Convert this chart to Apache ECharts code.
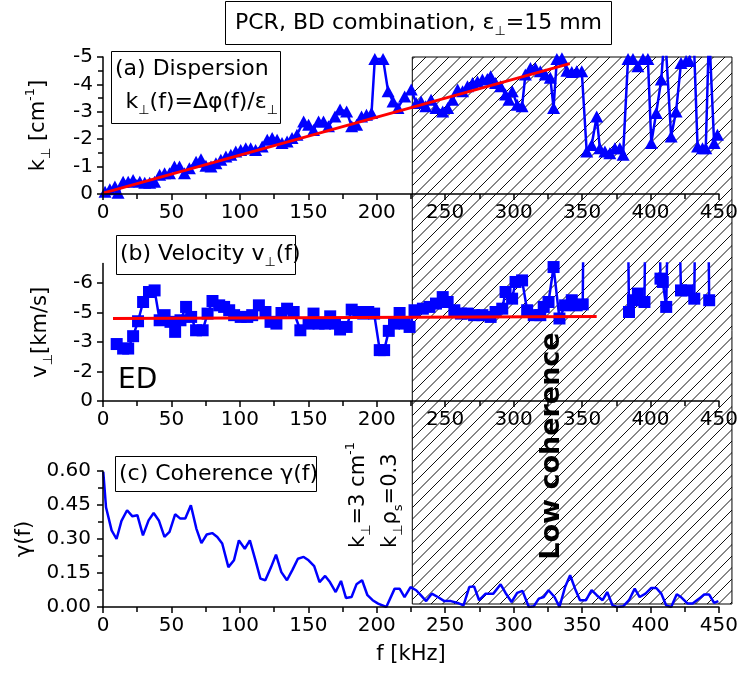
<!DOCTYPE html>
<html>
<head>
<meta charset="utf-8">
<script src="https://cdn.jsdelivr.net/npm/echarts@6/dist/echarts.min.js"></script>
<style>
  html, body { margin: 0; padding: 0; background: #fff; }
  #chart { width: 741px; height: 678px; }
</style>
</head>
<body>
<div id="chart"></div>
<script>
// ---- (a) dispersion: frequency [kHz] and k_perp [cm^-1] ----
const dispF = [1.5,5,8.7,11,14.7,18.4,22,26.9,30.5,34.1,
  37.7,41.4,45,48.6,52.2,55.9,59.5,63.1,68,71.6,
  75.2,78.9,82.5,86.1,89.8,93.4,97,100.6,104.3,107.9,
  111.5,116.3,120,123.6,127.2,130.8,134.5,138.1,141.7,146.6,
  150.2,153.8,157.5,161.1,164.7,169.5,173.2,178,181.7,185.3,
  188.9,192.5,196.2,198.6,204.6,208.3,211.9,215.5,220.4,225.2,
  228.8,232.4,235.8,239.7,243.3,248.2,251.8,255.4,259.1,262.7,
  266.3,270,273.6,277.2,280.8,283.2,286.8,290.5,294.1,296.6,
  299,302.6,306.2,308.6,312.3,315.9,319.5,323.1,326.8,329.2,
  331.6,335.3,338.9,342.5,346.1,349.8,353.4,357,360.7,363,
  366.7,370.3,374,377.6,380,383.6,387.2,390.8,394.5,398.1,
  400.6,404.2,407.9,410.5,415.1,418.7,422.3,426,428.4,431.4,
  434.4,438,440.4,442.8,446.5,448.9];
const dispK = [-0.08,-0.17,-0.27,-0.05,-0.45,-0.45,-0.51,-0.45,-0.41,-0.41,
  -0.45,-0.7,-0.76,-0.76,-1.0,-1.0,-0.76,-0.94,-1.18,-1.27,
  -1.03,-1.0,-1.12,-1.25,-1.37,-1.43,-1.55,-1.61,-1.67,-1.67,
  -1.61,-1.73,-1.98,-2.04,-1.98,-1.86,-1.92,-2.04,-2.16,-2.65,
  -2.53,-2.34,-2.65,-2.65,-2.47,-2.83,-3.08,-3.01,-2.47,-2.53,
  -2.83,-2.89,-2.96,-4.93,-4.93,-3.75,-3.38,-3.14,-3.56,-3.81,
  -3.32,-3.38,-3.2,-3.44,-3.14,-3.01,-3.14,-3.44,-3.81,-3.75,
  -3.93,-4.05,-4.11,-4.18,-4.2,-4.3,-4.05,-3.93,-3.63,-3.44,
  -3.75,-3.26,-3.2,-4.36,-4.6,-4.6,-4.48,-4.36,-4.24,-3.14,
  -4.93,-4.95,-4.5,-4.45,-4.48,-4.48,-1.55,-1.79,-2.83,-1.67,
  -1.55,-1.49,-1.67,-1.67,-1.43,-4.93,-4.93,-4.66,-4.93,-4.93,
  -1.86,-2.96,-4.18,-6,-2.1,-3.01,-4.78,-4.85,-4.85,-6,
  -1.73,-1.67,-1.67,-6,-1.86,-2.16];
// linear fit k = 2*pi*f / v
const fitKF = [0, 341];
const fitK = [-0.03, -4.76];

// ---- (b) phase velocity: frequency [kHz] and v_perp [km/s] ----
const velF = [10,14.7,18.4,22,25.6,29.3,33.6,37.7,41.4,45,
  49.3,52.7,56.6,60.7,64.4,68,72.8,76.4,80,84.9,
  88.5,92.2,95.8,100.6,105.4,109,113.9,118.7,122.4,126.7,
  130.4,134.5,139.3,144.2,150.2,153.8,157.5,162.3,166,169.5,
  173.2,178,181.7,186.5,190.1,193.8,198.1,202.2,205.4,208.8,
  212.6,216.7,220.3,224,227.6,233.7,238.5,243.3,248.2,251.8,
  256.7,261.5,266.3,271.1,277.2,283.2,286.8,291.7,294.1,298.9,
  301.4,306.2,309.9,314.7,319.5,322,325.5,329.2,333.5,337.6,
  342.5,346.1,350.5,351,383.6,384.3,387.2,390.8,395.6,396.2,
  406.6,407.3,409,411.5,412.6,421.1,422.3,427.2,432,432.6,
  442.3,442.9];
const velV = [-2.9,-2.67,-2.67,-3.3,-4.06,-5.04,-5.55,-5.63,-4.11,-4.37,
  -4.03,-3.52,-4.11,-4.79,-4.28,-3.6,-3.6,-4.45,-5.09,-4.87,
  -4.79,-4.62,-4.37,-4.28,-4.28,-4.37,-4.87,-4.53,-4.03,-3.94,
  -4.48,-4.7,-4.53,-3.6,-3.94,-4.45,-3.94,-3.94,-4.31,-3.94,
  -3.64,-3.77,-4.65,-4.53,-4.45,-4.53,-4.45,-2.59,-2.59,-3.57,
  -3.94,-4.48,-3.94,-3.77,-4.62,-4.7,-4.79,-4.96,-5.29,-5.04,
  -4.62,-4.45,-4.45,-4.37,-4.37,-4.28,-4.53,-4.7,-5.55,-5.21,
  -6.06,-6.14,-4.62,-4.37,-4.37,-4.79,-5.04,-6.82,-4.2,-4.87,
  -5.13,-4.87,-4.92,-9,-9,-4.53,-5.13,-5.47,-5.04,-9,
  -9,-6.23,-6.06,-4.79,-9,-9,-5.63,-5.63,-5.21,-9,
  -9,-5.13];
const fitVF = [7.3, 360.7];
const fitV = [-4.2, -4.3];
const velTicks = [0, -1.5, -3, -4.5, -6];

// ---- (c) coherence ----
const cohF = [0.2,2.2,6.3,9.9,13.5,17.6,21.5,25.1,29.2,33.3,
  37,40.8,44.9,48.6,52.7,56.5,60.1,64.2,68.2,71.9,
  75.8,79.8,83.5,87.1,91.6,95.7,99.3,103.6,107.3,111.4,
  115,118.6,122.8,126.4,130.3,134.4,138.5,142.4,146.6,150.2,
  154.3,158.2,162.3,165.8,170,173.9,177.5,181.6,185.2,189.3,
  193.2,197,201,207,213.1,216.7,220.3,224.7,228.8,232.5,
  236.1,240.2,244.6,249.4,254.2,259.1,263.4,267.6,271.1,274.8,
  279.6,285.2,290.5,294.1,298.5,302.6,306.5,311.1,314.7,318.4,
  322,325.5,329.9,333.5,337.6,341.3,344.9,348.5,352.9,357,
  360.7,365,368.4,372.3,375.6,380,384.3,388.5,392.1,396.4,
  400.6,404.2,407.9,411.5,415.1,419.2,422.3,427.2,430.8,435.6,
  439.2,442.9,446.5,449.6];
const cohG = [0.596,0.44,0.338,0.30,0.38,0.427,0.40,0.405,0.316,0.382,
  0.415,0.382,0.309,0.331,0.409,0.39,0.39,0.449,0.346,0.282,
  0.32,0.326,0.309,0.28,0.176,0.206,0.294,0.257,0.294,0.206,
  0.125,0.118,0.176,0.231,0.154,0.118,0.165,0.213,0.221,0.206,
  0.18,0.11,0.137,0.11,0.066,0.115,0.04,0.044,0.1,0.118,
  0.052,0.03,0.015,0.0,0.081,0.081,0.044,0.088,0.074,0.05,
  0.026,0.059,0.044,0.026,0.026,0.018,0.007,0.088,0.091,0.03,
  0.059,0.059,0.1,0.062,0.022,0.062,0.071,0.0,0.003,0.037,
  0.044,0.074,0.044,0.0,0.088,0.14,0.081,0.03,0.03,0.074,
  0.052,0.03,0.066,0.007,0.0,0.003,0.03,0.081,0.044,0.059,
  0.084,0.084,0.059,0.007,0.0,0.056,0.044,0.015,0.015,0.037,
  0.055,0.055,0.018,0.026];

// low-coherence band [kHz]
const LOW_COH_START = 224.5;
const LOW_COH_END = 456.5;

const zip = (xs, ys) => xs.map((x, i) => [x, ys[i]]);

const FONT = 'DejaVu Sans';
const BLUE = '#0000ff';
const RED = '#ff0000';

// tile with "/" diagonal hatching, lines x + y = c every half tile
function hatchCanvas() {
  const s = 23;
  const c = document.createElement('canvas');
  c.width = s; c.height = s;
  const g = c.getContext('2d');
  g.strokeStyle = '#111';
  g.lineWidth = 1;
  g.beginPath();
  for (let k = -2; k <= 6; k++) {
    const cst = k * s / 2;
    g.moveTo(cst + s, -s);
    g.lineTo(cst - 2 * s, 2 * s);
  }
  g.stroke();
  return c;
}

// rich-text styles: normal, subscript, superscript
function richSet(size, forGraphic) {
  const colorKey = forGraphic ? 'fill' : 'color';
  const small = Math.round(size * 0.6);
  return {
    n: { fontFamily: FONT, fontSize: size, [colorKey]: '#000', lineHeight: Math.round(size * 1.4), verticalAlign: 'middle' },
    sb: { fontFamily: FONT, fontSize: small, [colorKey]: '#000', lineHeight: small, verticalAlign: 'bottom' },
    sp: { fontFamily: FONT, fontSize: small, [colorKey]: '#000', lineHeight: small, verticalAlign: 'top' }
  };
}

const axisLineStyle = { color: '#000', width: 1.5 };
const tickLabel = { color: '#000', fontSize: 20, fontFamily: FONT };

function xAxisFor(gridIndex, extra) {
  return Object.assign({
    type: 'value', gridIndex, min: 0, max: 450, interval: 50,
    axisLine: { show: true, onZero: false, lineStyle: axisLineStyle },
    axisTick: { show: true, inside: false, length: 6, lineStyle: axisLineStyle },
    minorTick: { show: true, splitNumber: 2, length: 5, lineStyle: axisLineStyle },
    splitLine: { show: false },
    minorSplitLine: { show: false },
    axisLabel: Object.assign({ margin: 9 }, tickLabel),
    z: 5
  }, extra || {});
}

const chart = echarts.init(document.getElementById('chart'), null, { renderer: 'canvas' });

const hatchPattern = { image: hatchCanvas(), repeat: 'repeat' };
const pxPerKHz = 620 / 450;

const option = {
  animation: false,
  backgroundColor: '#fff',
  grid: [
    { left: 103, width: 620, top: 57, height: 137 },
    { left: 103, width: 620, top: 263.5, height: 137.5 },
    { left: 103, width: 620, top: 471, height: 136 },
    { left: 103, width: pxPerKHz * LOW_COH_END, top: 57, height: 547 }
  ],
  xAxis: [
    xAxisFor(0),
    xAxisFor(1),
    xAxisFor(2, {
      name: 'f [kHz]', nameLocation: 'middle', nameGap: 37,
      nameTextStyle: { color: '#000', fontSize: 21, fontFamily: FONT }
    }),
    { type: 'value', gridIndex: 3, min: 0, max: LOW_COH_END, show: false }
  ],
  yAxis: [
    {
      type: 'value', gridIndex: 0, inverse: true, min: -5, max: 0, interval: 1,
      axisLine: { show: true, onZero: false, lineStyle: axisLineStyle },
      axisTick: { show: true, length: 6, lineStyle: axisLineStyle },
      minorTick: { show: true, splitNumber: 2, length: 5, lineStyle: axisLineStyle },
      splitLine: { show: false }, minorSplitLine: { show: false },
      axisLabel: Object.assign({ margin: 10 }, tickLabel),
      name: '{n|k}{sb|⊥}{n| [cm}{sp|-1}{n|]}',
      nameLocation: 'middle', nameRotate: 90, nameGap: 50,
      nameTextStyle: { rich: richSet(21, false) },
      z: 5
    },
    {
      type: 'value', gridIndex: 1, inverse: true, min: -7, max: 0,
      axisLine: { show: true, onZero: false, lineStyle: axisLineStyle },
      axisTick: { show: true, length: 6, lineStyle: axisLineStyle, customValues: velTicks },
      splitLine: { show: false },
      axisLabel: Object.assign({
        margin: 10,
        customValues: velTicks,
        formatter: v => (v === 0 ? '0' : '-' + Math.round(-v))
      }, tickLabel),
      name: '{n|v}{sb|⊥}{n|[km/s]}',
      nameLocation: 'middle', nameRotate: 90, nameGap: 48,
      nameTextStyle: { rich: richSet(21, false) },
      z: 5
    },
    {
      type: 'value', gridIndex: 2, min: 0, max: 0.6, interval: 0.15,
      axisLine: { show: true, onZero: false, lineStyle: axisLineStyle },
      axisTick: { show: true, length: 6, lineStyle: axisLineStyle },
      minorTick: { show: true, splitNumber: 2, length: 5, lineStyle: axisLineStyle },
      splitLine: { show: false }, minorSplitLine: { show: false },
      axisLabel: Object.assign({ margin: 12, formatter: v => v.toFixed(2) }, tickLabel),
      name: 'γ(f)',
      nameLocation: 'middle', nameRotate: 90, nameGap: 68,
      nameTextStyle: { color: '#000', fontSize: 21, fontFamily: FONT },
      z: 5
    },
    { type: 'value', gridIndex: 3, min: 0, max: 1, show: false }
  ],
  series: [
    {
      name: 'low coherence band', type: 'line', xAxisIndex: 3, yAxisIndex: 3,
      data: [[LOW_COH_START, 0]], showSymbol: false, lineStyle: { width: 0 },
      silent: true, z: 1,
      markArea: {
        silent: true,
        itemStyle: { color: hatchPattern, borderColor: '#000', borderWidth: 1 },
        data: [[{ xAxis: LOW_COH_START }, { xAxis: LOW_COH_END }]]
      }
    },
    {
      name: 'k_perp', type: 'line', xAxisIndex: 0, yAxisIndex: 0,
      data: zip(dispF, dispK),
      symbol: 'triangle', symbolSize: [13, 12], showAllSymbol: true,
      itemStyle: { color: BLUE }, lineStyle: { color: BLUE, width: 2.5 },
      z: 3
    },
    {
      name: 'k_perp fit', type: 'line', xAxisIndex: 0, yAxisIndex: 0,
      data: zip(fitKF, fitK), showSymbol: false,
      lineStyle: { color: RED, width: 3 }, z: 4
    },
    {
      name: 'v_perp', type: 'line', xAxisIndex: 1, yAxisIndex: 1,
      data: zip(velF, velV),
      symbol: 'rect', symbolSize: 12, showAllSymbol: true,
      itemStyle: { color: BLUE }, lineStyle: { color: BLUE, width: 2.5 },
      z: 3
    },
    {
      name: 'v_perp mean', type: 'line', xAxisIndex: 1, yAxisIndex: 1,
      data: zip(fitVF, fitV), showSymbol: false,
      lineStyle: { color: RED, width: 3 }, z: 4
    },
    {
      name: 'coherence', type: 'line', xAxisIndex: 2, yAxisIndex: 2,
      data: zip(cohF, cohG), showSymbol: false,
      lineStyle: { color: BLUE, width: 2.5 }, z: 3
    }
  ],
  graphic: [
    // title box
    { type: 'rect', z: 100, shape: { x: 225.5, y: 1.5, width: 386, height: 43 },
      style: { fill: '#fff', stroke: '#000', lineWidth: 1 } },
    { type: 'text', z: 101, x: 418.5, y: 23,
      style: { text: '{n|PCR, BD combination, ε}{sb|⊥}{n|=15 mm}', rich: richSet(22, true),
        align: 'center', verticalAlign: 'middle' } },
    // (a) box
    { type: 'rect', z: 100, shape: { x: 111.5, y: 51.5, width: 169, height: 72 },
      style: { fill: '#fff', stroke: '#000', lineWidth: 1 } },
    { type: 'text', z: 101, x: 115, y: 69,
      style: { text: '{n|(a) Dispersion}', rich: richSet(22, true), align: 'left', verticalAlign: 'middle' } },
    { type: 'text', z: 101, x: 278, y: 102,
      style: { text: '{n|k}{sb|⊥}{n|(f)=Δφ(f)/ε}{sb|⊥}', rich: richSet(22, true), align: 'right', verticalAlign: 'middle' } },
    // (b) box
    { type: 'rect', z: 100, shape: { x: 116.5, y: 235.5, width: 179, height: 39 },
      style: { fill: '#fff', stroke: '#000', lineWidth: 1 } },
    { type: 'text', z: 101, x: 120, y: 254,
      style: { text: '{n|(b) Velocity v}{sb|⊥}{n|(f)}', rich: richSet(22, true), align: 'left', verticalAlign: 'middle' } },
    // (c) box
    { type: 'rect', z: 100, shape: { x: 115.5, y: 456.5, width: 201, height: 35 },
      style: { fill: '#fff', stroke: '#000', lineWidth: 1 } },
    { type: 'text', z: 101, x: 119, y: 474,
      style: { text: '{n|(c) Coherence γ(f)}', rich: richSet(22, true), align: 'left', verticalAlign: 'middle' } },
    // ED label
    { type: 'text', z: 101, x: 118, y: 381,
      style: { text: 'ED', fill: '#000', font: '28px "DejaVu Sans"', align: 'left', verticalAlign: 'middle' } },
    // band label
    { type: 'text', z: 101, x: 552, y: 446, rotation: Math.PI / 2,
      style: { text: 'Low coherence', fill: '#000', font: 'bold 27px "DejaVu Sans"', align: 'center', verticalAlign: 'middle' } },
    // wavenumber markers
    { type: 'text', z: 101, x: 359, y: 548, rotation: Math.PI / 2,
      style: { text: '{n|k}{sb|⊥}{n|=3 cm}{sp|-1}', rich: richSet(21, true), align: 'left', verticalAlign: 'middle' } },
    { type: 'text', z: 101, x: 391, y: 548, rotation: Math.PI / 2,
      style: { text: '{n|k}{sb|⊥}{n|ρ}{sb|s}{n|=0.3}', rich: richSet(21, true), align: 'left', verticalAlign: 'middle' } }
  ]
};

chart.setOption(option);
</script>
</body>
</html>
